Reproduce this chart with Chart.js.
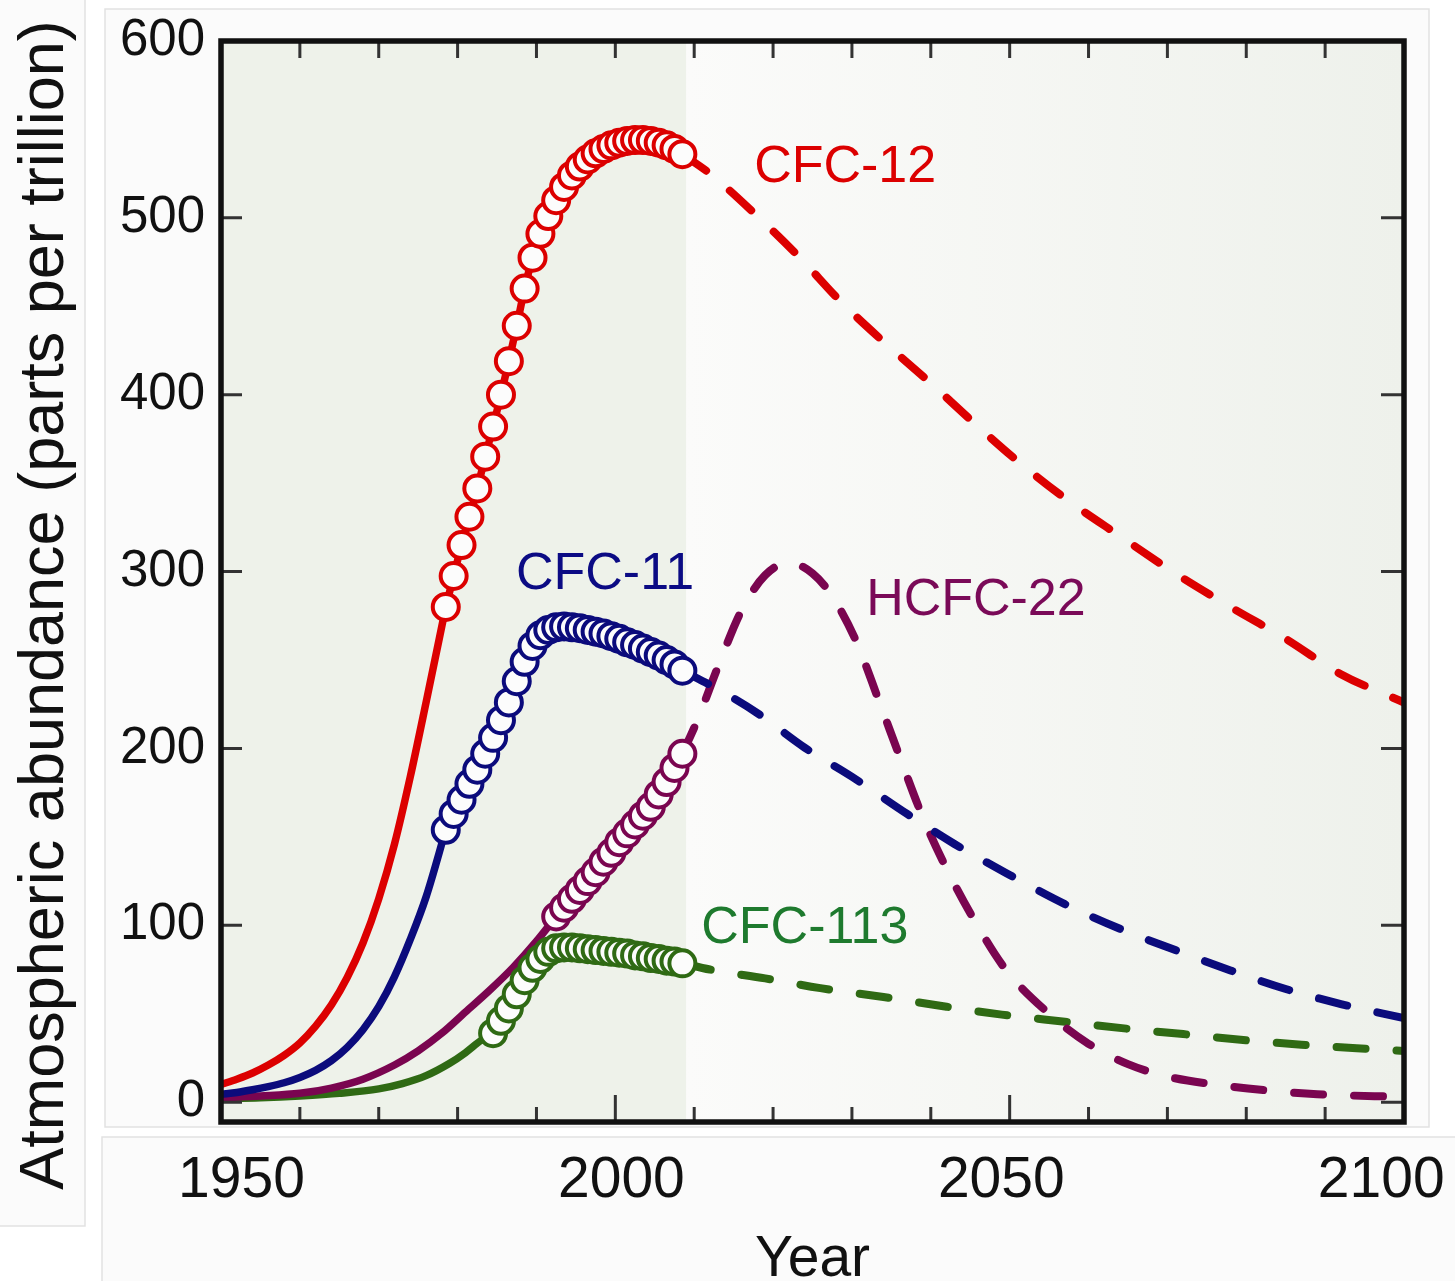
<!DOCTYPE html>
<html>
<head>
<meta charset="utf-8">
<script src="https://cdn.jsdelivr.net/npm/chart.js@4.4.1/dist/chart.umd.min.js"></script>
<style>
  html, body { margin: 0; padding: 0; background: #fff; }
  canvas { display: block; }
</style>
</head>
<body>
<canvas id="chart" width="1455" height="1281"></canvas>
<script>
// Atmospheric abundance of the main CFCs and HCFC-22, 1950-2100

const yTickValues = [0, 100, 200, 300, 400, 500, 600];
const yearLabels = [1950, 2000, 2050, 2100];
const yTitle = 'Atmospheric abundance (parts per trillion)';

// annual means of the measured period (plotted mid-year)
const obsYears = [1978.5, 1979.5, 1980.5, 1981.5, 1982.5, 1983.5, 1984.5, 1985.5, 1986.5, 1987.5,
  1988.5, 1989.5, 1990.5, 1991.5, 1992.5, 1993.5, 1994.5, 1995.5, 1996.5, 1997.5,
  1998.5, 1999.5, 2000.5, 2001.5, 2002.5, 2003.5, 2004.5, 2005.5, 2006.5, 2007.5, 2008.5];
const obsEnd = 2009;

// CFC-12
const cfc12HistYears = [1950, 1952, 1954, 1956, 1958, 1960, 1962, 1964, 1966, 1968, 1970, 1972, 1974, 1976, 1978.5];
const cfc12Hist = [10, 13, 16.5, 21, 26.5, 33.5, 43, 55, 70.5, 90, 115, 146, 184, 226, 280];
const cfc12Obs = [280, 297.5, 315, 331, 347, 365, 382, 400, 419, 439, 460, 477.5, 491, 501, 510, 517.5,
  524, 529, 533, 536.5, 539, 541, 542.5, 543.5, 544, 544, 543.5, 542.5, 541, 539, 536];
const cfc12ProjYears = [2008.5, 2012, 2018, 2023.5, 2028.5, 2034, 2040, 2045.5, 2051, 2057, 2064, 2071, 2078, 2085, 2092, 2100];
const cfc12Proj = [536, 525, 501, 477, 453, 430, 406.5, 384, 362.5, 341.5, 320, 299, 280, 262, 242, 226];

// CFC-11
const cfc11HistYears = [1950, 1952, 1954, 1956, 1958, 1960, 1962, 1964, 1966, 1968, 1970, 1972, 1974, 1976, 1978.5];
const cfc11Hist = [4.5, 5.5, 7, 8.8, 11, 14, 18, 23.5, 31, 41, 54, 71, 92, 116, 154];
const cfc11Obs = [154, 163, 171, 180, 188, 197, 206, 216, 226, 238, 249, 258, 264, 267, 268.5, 269,
  268.5, 268, 267, 266, 265, 263.5, 262, 260, 258.5, 256.5, 254.5, 252.5, 250, 247.5, 244];
const cfc11ProjYears = [2008.5, 2013, 2018, 2024, 2030, 2037, 2043, 2050, 2057, 2064, 2071, 2078, 2085, 2092, 2100];
const cfc11Proj = [244, 233.5, 220, 200.5, 184, 163, 146, 128.5, 112, 98, 86, 74.5, 64, 55.5, 47.5];

// HCFC-22
const hcfc22HistYears = [1950, 1955, 1960, 1964, 1968, 1972, 1975, 1978, 1981, 1984, 1987, 1990, 1992.5];
const hcfc22Hist = [2.5, 3.5, 5, 8, 13, 21, 29, 39, 51, 63, 76, 91, 105];
const hcfc22Obs = [105, 110, 115, 120, 125, 130, 136, 141, 147, 152, 157, 162, 167, 174, 181, 189, 197];
const hcfc22ProjYears = [2008.5, 2010.5, 2013, 2016, 2019, 2022, 2025, 2027.5, 2030.5, 2033.5, 2036, 2039,
  2042, 2045.5, 2049.5, 2055, 2060, 2065, 2070, 2076, 2083, 2089, 2100];
const hcfc22Proj = [197, 217, 246, 278, 298, 305, 299, 286, 261, 226, 196, 161, 132, 103, 75, 50, 33, 21.5, 14.5, 10, 6.5, 4.5, 3];

// CFC-113
const cfc113HistYears = [1950, 1955, 1960, 1965, 1970, 1973, 1976, 1979, 1981, 1983, 1984.5];
const cfc113Hist = [2, 2.5, 3.5, 5, 7.5, 10.5, 15, 22, 28, 35, 39];
const cfc113Obs = [39, 46, 53, 61, 69, 76, 81, 85, 87, 87.5, 87.5, 87, 86.5, 86, 85.5, 85, 84.5, 84,
  83, 82.5, 81.5, 81, 80, 79.5, 78.5];
const cfc113ProjYears = [2008.5, 2012, 2019, 2026, 2034, 2042, 2049, 2057, 2065, 2072, 2080, 2087, 2094, 2100];
const cfc113Proj = [78.5, 75, 70, 64.5, 59.5, 54, 49.5, 45.5, 41.5, 38.5, 35, 32.5, 30.5, 29];

const species = [
  { name: 'CFC-12', line: '#dc0000', text: '#dc0000', histX: cfc12HistYears, hist: cfc12Hist,
    obsX: obsYears, obs: cfc12Obs, projX: cfc12ProjYears, proj: cfc12Proj, at: [2017.6, 528.5] },
  { name: 'CFC-11', line: '#0b0b7c', text: '#0b0b84', histX: cfc11HistYears, hist: cfc11Hist,
    obsX: obsYears, obs: cfc11Obs, projX: cfc11ProjYears, proj: cfc11Proj, at: [1987.4, 298.5] },
  { name: 'HCFC-22', line: '#7a0550', text: '#7a0a58', histX: hcfc22HistYears, hist: hcfc22Hist,
    obsX: obsYears.slice(14), obs: hcfc22Obs, projX: hcfc22ProjYears, proj: hcfc22Proj, at: [2031.8, 283.5] },
  { name: 'CFC-113', line: '#2f6a14', text: '#1e7a2e', histX: cfc113HistYears, hist: cfc113Hist,
    obsX: obsYears.slice(6), obs: cfc113Obs, projX: cfc113ProjYears, proj: cfc113Proj, at: [2010.9, 98.3] },
];

const pts = (xs, ys) => xs.map((yr, i) => ({ x: yr, y: ys[i] }));

const datasets = [];
species.forEach((s) => {
  datasets.push({
    label: s.name + ' measured',
    data: pts(s.obsX, s.obs),
    borderColor: s.line,
    borderWidth: 7.5,
    pointRadius: 13,
    pointBorderWidth: 4,
    pointBackgroundColor: '#fcfcfc',
    pointBorderColor: s.line,
    cubicInterpolationMode: 'monotone',
    order: 0,
  });
});
species.forEach((s) => {
  datasets.push({
    label: s.name + ' past',
    data: pts(s.histX, s.hist),
    borderColor: s.line,
    borderWidth: 7.5,
    pointRadius: 0,
    cubicInterpolationMode: 'monotone',
    order: 1,
  });
  datasets.push({
    label: s.name + ' projected',
    data: pts(s.projX, s.proj),
    borderColor: s.line,
    borderWidth: 8,
    borderDash: [29, 31],
    borderCapStyle: 'round',
    pointRadius: 0,
    cubicInterpolationMode: 'monotone',
    order: 1,
  });
});

const FONT = "'Liberation Sans', Arial, sans-serif";
Chart.defaults.font.family = FONT;
Chart.defaults.color = '#111';

// panels, measured-period shading
const backdrop = {
  id: 'backdrop',
  beforeDraw(chart) {
    const { ctx, chartArea: a, scales: { x } } = chart;
    ctx.save();
    ctx.fillStyle = '#ffffff';
    ctx.fillRect(0, 0, chart.width, chart.height);
    const panel = (l, t, r, b) => {
      ctx.fillStyle = '#fbfbfb';
      ctx.fillRect(l, t, r - l, b - t);
      ctx.strokeStyle = '#e2e2e2';
      ctx.lineWidth = 1.5;
      ctx.strokeRect(l, t, r - l, b - t);
    };
    panel(-2, -2, 85, 1226);
    panel(105, 9, 1429, 1127);
    panel(102, 1137, 1470, 1290);

    const split = x.getPixelForValue(obsEnd);
    ctx.fillStyle = '#eef2ea';
    ctx.fillRect(a.left, a.top, split - a.left, a.bottom - a.top);
    const g = ctx.createLinearGradient(split, 0, a.right, 0);
    g.addColorStop(0, '#fbfbfa');
    g.addColorStop(1, '#eef1eb');
    ctx.fillStyle = g;
    ctx.fillRect(split, a.top, a.right - split, a.bottom - a.top);

    // y title lives in the left strip
    ctx.translate(46, 605);
    ctx.rotate(-Math.PI / 2);
    ctx.font = '63px ' + FONT;
    ctx.fillStyle = '#111';
    ctx.textAlign = 'center';
    ctx.textBaseline = 'middle';
    ctx.fillText(yTitle, 0, 0);
    ctx.restore();
  },
};

// box frame with inward ticks, plus the series names
const frame = {
  id: 'frame',
  afterDatasetsDraw(chart) {
    const { ctx, chartArea: a, scales: { x, y } } = chart;
    ctx.save();
    ctx.strokeStyle = '#333';
    ctx.lineWidth = 3;
    ctx.beginPath();
    for (let yr = 1960; yr < 2100; yr += 10) {
      const px = x.getPixelForValue(yr);
      const major = yr % 50 === 0;
      ctx.moveTo(px, a.bottom);
      ctx.lineTo(px, a.bottom - (major ? 27 : 15));
      ctx.moveTo(px, a.top);
      ctx.lineTo(px, a.top + 17);
    }
    yTickValues.filter((v) => v < 600).forEach((v) => {
      const py = y.getPixelForValue(v);
      ctx.moveTo(a.left, py);
      ctx.lineTo(a.left + 21, py);
      ctx.moveTo(a.right, py);
      ctx.lineTo(a.right - 23, py);
    });
    ctx.stroke();

    ctx.strokeStyle = '#111';
    ctx.lineWidth = 5.5;
    ctx.strokeRect(a.left, a.top, a.right - a.left, a.bottom - a.top);

    ctx.font = '52px ' + FONT;
    ctx.textAlign = 'left';
    ctx.textBaseline = 'middle';
    species.forEach((s) => {
      ctx.fillStyle = s.text;
      ctx.fillText(s.name, x.getPixelForValue(s.at[0]), y.getPixelForValue(s.at[1]));
    });
    ctx.restore();
  },
};

new Chart(document.getElementById('chart').getContext('2d'), {
  type: 'line',
  data: { datasets },
  plugins: [backdrop, frame],
  options: {
    responsive: false,
    animation: false,
    devicePixelRatio: 1,
    events: [],
    layout: { padding: { top: 41, right: 51, bottom: 0, left: 0 } },
    plugins: { legend: { display: false }, tooltip: { enabled: false } },
    scales: {
      x: { type: 'linear', min: 1950, max: 2100, display: false },
      // year labels sit in their own strip under the plot
      xl: {
        type: 'linear',
        position: 'bottom',
        min: 1947.3,
        max: 2103,
        afterBuildTicks: (scale) => { scale.ticks = yearLabels.map((v) => ({ value: v })); },
        afterFit: (scale) => {
          scale.height = 159;
          scale.paddingLeft = 0;
          scale.paddingRight = 0;
        },
        grid: { display: false, drawTicks: false },
        border: { display: false },
        ticks: {
          font: { size: 57, lineHeight: 1.2 },
          padding: 25,
          maxRotation: 0,
          autoSkip: false,
          callback: (v) => String(v),
        },
        title: {
          display: true,
          text: 'Year',
          font: { size: 57, lineHeight: 1.2 },
          padding: { top: 0, bottom: -13 },
        },
      },
      y: {
        min: -11.2,
        max: 600,
        afterBuildTicks: (scale) => { scale.ticks = yTickValues.map((v) => ({ value: v })); },
        afterFit: (scale) => {
          scale.width = 221;
          scale.paddingTop = 0;
          scale.paddingBottom = 0;
        },
        grid: { display: false, drawTicks: false },
        border: { display: false },
        ticks: {
          font: { size: 51 },
          padding: 16,
          callback: (v) => String(v),
        },
        title: { display: false },
      },
    },
  },
});
</script>
</body>
</html>
